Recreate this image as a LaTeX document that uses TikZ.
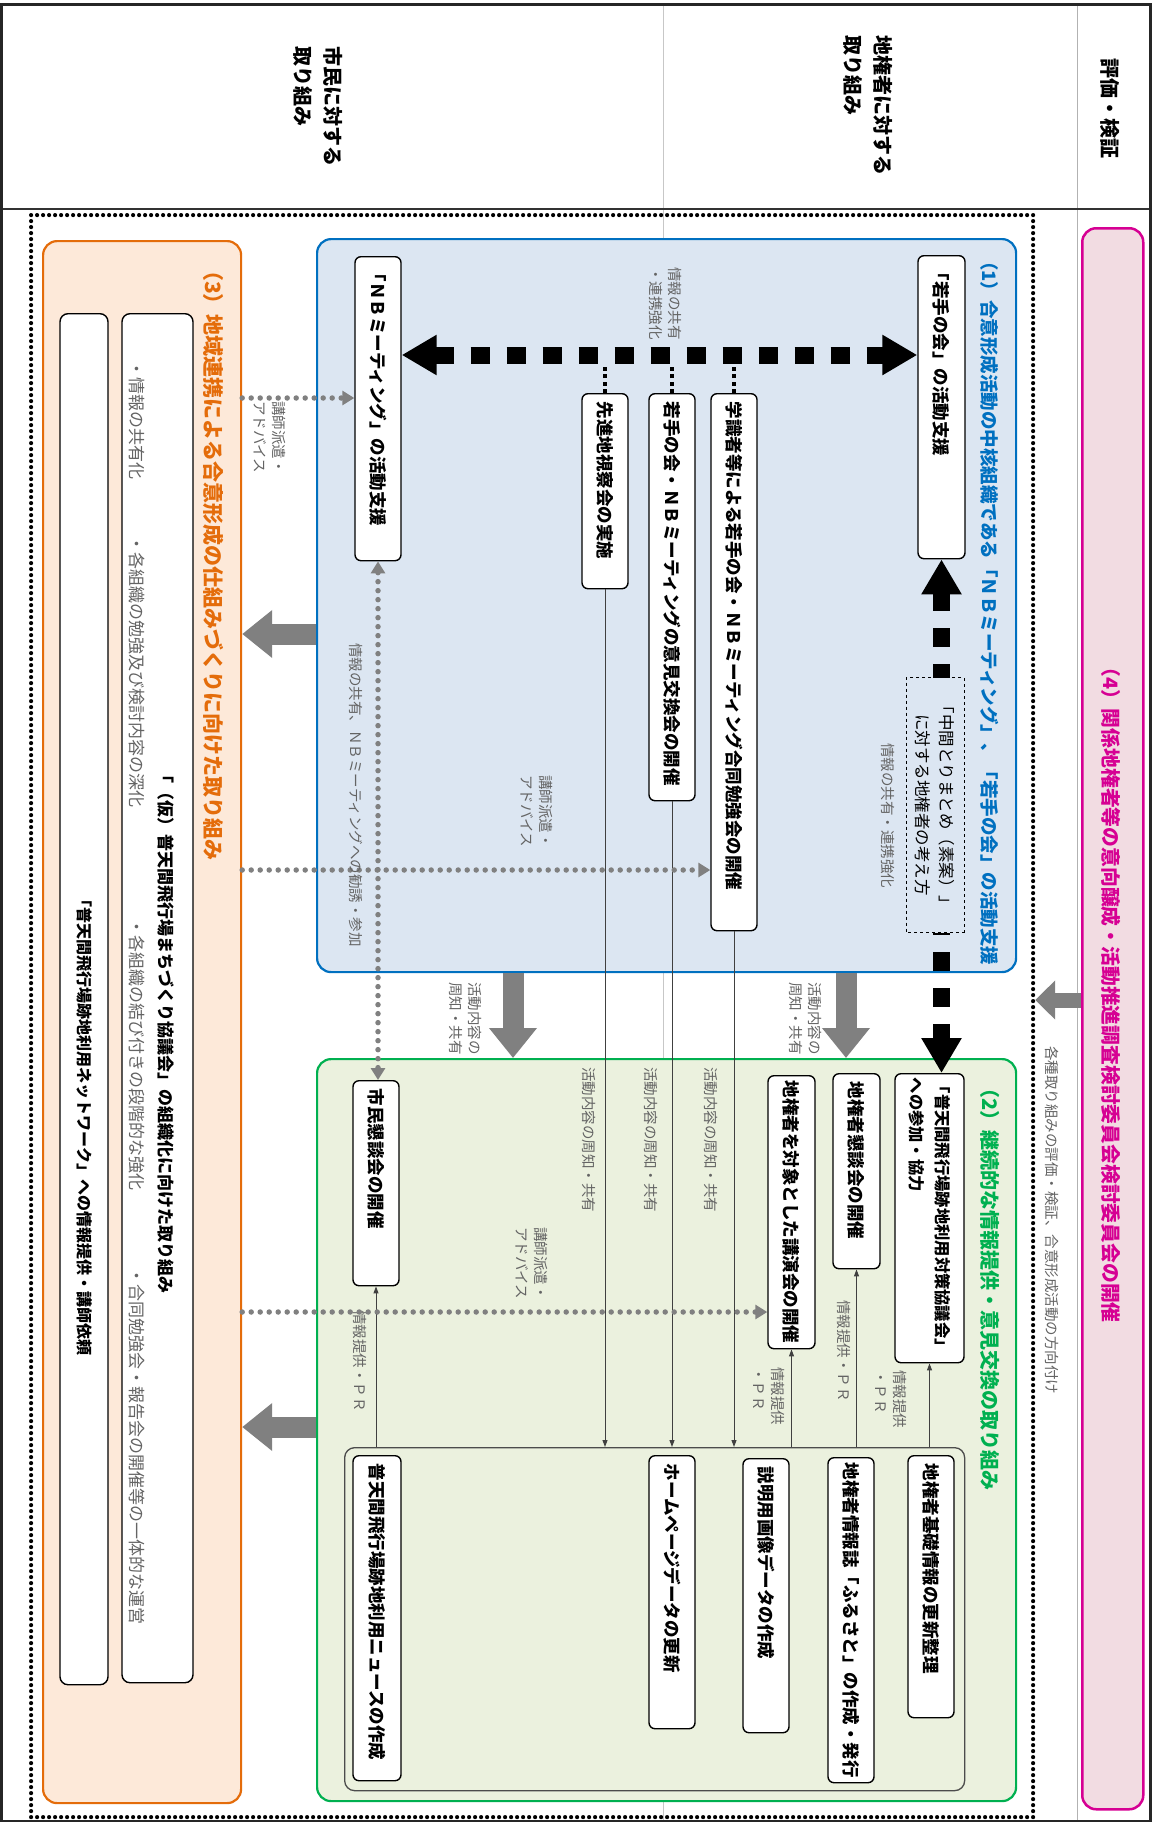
\documentclass[tikz,border=0pt]{standalone}
\usepackage{fontspec}
\setmainfont{Noto Sans CJK JP}
\usetikzlibrary{arrows.meta}
\definecolor{bluefill}{RGB}{220,230,242}
\definecolor{blueline}{RGB}{0,112,192}
\definecolor{greenfill}{RGB}{235,241,222}
\definecolor{greenline}{RGB}{0,176,80}
\definecolor{orangefill}{RGB}{253,233,217}
\definecolor{orangeline}{RGB}{228,108,10}
\definecolor{pinkfill}{RGB}{242,220,226}
\definecolor{pinkline}{RGB}{214,0,147}
\definecolor{labelgrey}{RGB}{100,100,100}
\definecolor{arrowgrey}{RGB}{128,128,128}
\newcommand{\fsz}[2]{\fontsize{#1pt}{#2pt}\selectfont}
\tikzset{
  bighead/.tip={Triangle[length=35pt,width=38pt]},
  greyhead/.tip={Triangle[length=12pt,width=14pt]},
  vtext/.style={rotate=-90, inner sep=0pt},
  region/.style={rounded corners=14pt, line width=2.2pt, inner sep=0pt, anchor=north west},
  stepbox/.style={vtext, anchor=west, draw=black, line width=1.4pt, fill=white, rounded corners=6pt, font=\fsz{17.5}{26}\bfseries, align=left, inner xsep=8pt},
  lbl/.style={vtext, text=labelgrey, font=\fsz{14.5}{19}, align=left},
  hdr/.style={vtext, anchor=west, font=\fsz{20}{30}\bfseries, align=left},
  ttl/.style={vtext, anchor=west, font=\fsz{19}{24}\bfseries},
  bigdash/.style={line width=17pt, dash pattern=on 19pt off 17pt, black},
  fatarrow/.style={line width=21pt, arrowgrey, -{Triangle[length=30pt,width=46pt]}},
  dotgrey/.style={line width=5.5pt, arrowgrey, dash pattern=on 0pt off 9pt, line cap=round},
  thinarrow/.style={line width=1pt, black!75, -{Triangle[length=7pt,width=5pt]}},
  shortdot/.style={line width=4.5pt, dash pattern=on 4pt off 3.5pt, black},
}
\begin{document}
\begin{tikzpicture}[x=1pt,y=-1pt]
\useasboundingbox (0,0) rectangle (1152,1822);
\fill[white] (0,0) rectangle (1152,1822);
% column separators and frame
\draw[black!22, line width=0.8pt] (663,5) -- (663,1822);
\draw[black!30, line width=0.8pt] (1077,5) -- (1077,1822);
\draw[line width=1.2pt, black!80] (2,209) -- (1150,209);
\draw[line width=3pt, black!85] (1.5,4.5) rectangle (1150.5,1821);
% headers
\node[hdr] (hcit) at (318,46) {市民に対する\\取り組み};
\node[hdr] (hland) at (868,35) {地権者に対する\\取り組み};
\node[hdr] (heval) at (1110,58) {評価・検証};
% dotted frame
\node[region, rounded corners=0pt, draw=black, line width=4.2pt, dash pattern=on 0pt off 6pt, line cap=round, minimum width=1002pt, minimum height=1602pt] (frame) at (29,213) {};
% (4) pink
\node[region, draw=pinkline, fill=pinkfill, line width=2.5pt, minimum width=61pt, minimum height=1581pt] (pinkreg) at (1081,227) {};
\node[ttl, anchor=center, text=pinkline, font=\fsz{19.8}{24}\bfseries] (t4) at (1111,990) {（4）関係地権者等の意向醸成・活動推進調査検討委員会検討委員会の開催};
\draw[arrowgrey, line width=15pt, -{Triangle[length=20pt,width=38pt]}] (pinkreg.west |- 0,1000) -- (frame.east |- 0,1000);
\node[lbl, anchor=west] (l4) at (1052,1046) {各種取り組みの評価・検証、合意形成活動の方向付け};
% regions
\node[region, draw=blueline, fill=bluefill, minimum width=699pt, minimum height=733pt] (blue) at (316,238) {};
\node[ttl, text=blueline, font=\fsz{18.5}{24}\bfseries] (t1) at (990,252) {（1）合意形成活動の中核組織である「ＮＢミーティング」、「若手の会」の活動支援};
\node[region, draw=greenline, fill=greenfill, minimum width=699pt, minimum height=742pt] (green) at (316,1058) {};
\node[ttl, text=greenline, font=\fsz{20}{24}\bfseries] (t2) at (990,1078) {（2）継続的な情報提供・意見交換の取り組み};
\node[region, draw=orangeline, fill=orangefill, minimum width=198pt, minimum height=1562pt] (orange) at (42,240) {};
\node[ttl, text=orangeline, font=\fsz{21}{24}\bfseries] (t3) at (213,260) {（3）地域連携による合意形成の仕組みづくりに向けた取り組み};
% blue boxes
\node[stepbox, text width=287pt, minimum height=47pt] (wakate) at (941.5,255) {「若手の会」の活動支援};
\node[stepbox, text width=288pt, minimum height=46pt] (nbm) at (378,256) {「ＮＢミーティング」の活動支援};
\node[stepbox, text width=521pt, minimum height=46pt] (gaku) at (734,393) {学識者等による若手の会・ＮＢミーティング合同勉強会の開催};
\node[stepbox, text width=391pt, minimum height=46pt] (iken) at (672,393) {若手の会・ＮＢミーティングの意見交換会の開催};
\node[stepbox, text width=179pt, minimum height=46pt] (senshin) at (605,393) {先進地視察会の実施};
% green boxes
\node[stepbox, inner xsep=4pt, text width=281pt, minimum height=69pt, font=\fsz{16.3}{26}\bfseries] (kyogi) at (929.5,1073) {「普天間飛行場跡地利用対策協議会」\\への参加・協力};
\node[stepbox, text width=179pt, minimum height=47pt] (kondan) at (856.5,1073) {地権者懇談会の開催};
\node[stepbox, inner xsep=5pt, text width=263pt, minimum height=47pt] (koen) at (791.5,1075) {地権者を対象とした講演会の開催};
\node[stepbox, text width=189pt, minimum height=46pt] (shimin) at (376,1080) {市民懇談会の開催};
\node[region, draw=black!70, line width=1.3pt, fill=greenfill, rounded corners=10pt, minimum width=620pt, minimum height=343pt] (inner) at (344,1447) {};
\node[stepbox, text width=246pt, minimum height=46pt] (kiso) at (931,1455) {地権者基礎情報の更新整理};
\node[stepbox, inner xsep=5pt, text width=315pt, minimum height=46pt] (furusato) at (851,1457) {地権者情報誌「ふるさと」の作成・発行};
\node[stepbox, text width=258pt, minimum height=46pt] (gazo) at (766,1458) {説明用画像データの作成};
\node[stepbox, text width=257pt, minimum height=46pt] (hp) at (672,1455) {ホームページデータの更新};
\node[stepbox, text width=309pt, minimum height=48pt] (news) at (377,1455) {普天間飛行場跡地利用ニュースの作成};
% big dashed arrows
\draw[bigdash, bighead-bighead] (nbm.north |- 0,355) -- (wakate.south |- 0,355);
\draw[bigdash, bighead-bighead] (wakate.east) -- (wakate.east |- kyogi.west);
\draw[shortdot] (gaku.west) -- (gaku.west |- 0,366);
\draw[shortdot] (iken.west) -- (iken.west |- 0,366);
\draw[shortdot] (senshin.west) -- (senshin.west |- 0,366);
\node[lbl, anchor=west] (lshare) at (665,267) {情報の共有\\・連携強化};
\node[vtext, anchor=west, draw=black, dashed, line width=1pt, fill=bluefill, minimum width=255pt, minimum height=58pt, text width=245pt, align=center, font=\fsz{16.5}{24}] (chukan) at (935,677) {「中間とりまとめ（素案）」\\に対する地権者の考え方};
\node[lbl, anchor=west] (lshare2) at (888,743) {情報の共有・連携強化};
% grey fat arrows
\draw[fatarrow] (846,0 |- blue.south) -- (846,0 |- green.north);
\draw[fatarrow] (513,0 |- blue.south) -- (513,0 |- green.north);
\node[lbl, anchor=west] (lact1) at (805,982) {活動内容の\\周知・共有};
\node[lbl, anchor=west] (lact2) at (465,982) {活動内容の\\周知・共有};
\draw[fatarrow] (blue.west |- 0,634) -- (orange.east |- 0,634);
\draw[fatarrow] (green.west |- 0,1427) -- (orange.east |- 0,1427);
% thin arrows down
\draw[thinarrow] (gaku.east) -- (gaku.east |- inner.north);
\draw[thinarrow] (iken.east) -- (iken.east |- inner.north);
\draw[thinarrow] (senshin.east) -- (senshin.east |- inner.north);
\node[lbl, anchor=west] (ld1) at (711,1067) {活動内容の周知・共有};
\node[lbl, anchor=west] (ld2) at (651,1067) {活動内容の周知・共有};
\node[lbl, anchor=west] (ld3) at (589,1067) {活動内容の周知・共有};
% thin arrows up
\draw[thinarrow] (kyogi.east |- inner.north) -- (kyogi.east);
\draw[thinarrow] (kondan.east |- inner.north) -- (kondan.east);
\draw[thinarrow] (koen.east |- inner.north) -- (koen.east);
\draw[thinarrow] (shimin.east |- inner.north) -- (shimin.east);
\node[lbl, anchor=west] (lp1) at (891,1370) {情報提供\\・ＰＲ};
\node[lbl, anchor=west] (lp2) at (844,1300) {情報提供・ＰＲ};
\node[lbl, anchor=west] (lp3) at (769,1367) {情報提供\\・ＰＲ};
\node[lbl, anchor=west] (lp4) at (360,1310) {情報提供・ＰＲ};
% grey dotted arrows
\draw[dotgrey, -greyhead] (orange.east |- 0,398) -- (nbm.south |- 0,398);
\draw[dotgrey, -greyhead] (orange.east |- 0,870) -- (gaku.south |- 0,870);
\draw[dotgrey, -greyhead] (orange.east |- 0,1312) -- (koen.south |- 0,1312);
\draw[dotgrey, greyhead-greyhead] (nbm.east) -- (nbm.east |- shimin.west);
\node[lbl, anchor=west] (la1) at (270,401) {講師派遣・\\アドバイス};
\node[lbl, anchor=west] (la2) at (537,775) {講師派遣・\\アドバイス};
\node[lbl, anchor=west] (la3) at (532,1227) {講師派遣・\\アドバイス};
\node[lbl, anchor=west] (lnb) at (356,643) {情報の共有、ＮＢミーティングへの勧誘・参加};
% orange boxes
\node[vtext, anchor=west, draw=black, line width=1.4pt, fill=white, rounded corners=8pt, minimum width=1369pt, minimum height=71pt] (machi) at (157.5,313) {};
\node[vtext, font=\fsz{17}{20}\bfseries] (macht) at (166,1030) {「（仮）普天間飛行場まちづくり協議会」の組織化に向けた取り組み};
\node[lbl, anchor=west, font=\fsz{17}{19}] (m1) at (137,360) {・情報の共有化};
\node[lbl, anchor=west, font=\fsz{17}{19}] (m2) at (137,535) {・各組織の勉強及び検討内容の深化};
\node[lbl, anchor=west, font=\fsz{17}{19}] (m3) at (137,918) {・各組織の結び付きの段階的な強化};
\node[lbl, anchor=west, font=\fsz{17}{19}] (m4) at (137,1267) {・合同勉強会・報告会の開催等の一体的な運営};
\node[vtext, anchor=west, draw=black, line width=1.4pt, fill=white, rounded corners=8pt, minimum width=1371pt, minimum height=48pt] (net) at (84,313) {};
\node[vtext, font=\fsz{16}{20}\bfseries] (nett) at (84,1123) {「普天間飛行場跡地利用ネットワーク」への情報提供・講師依頼};
\end{tikzpicture}
\end{document}
